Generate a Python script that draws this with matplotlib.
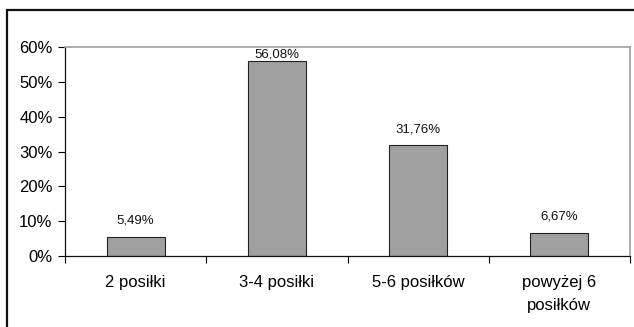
import numpy as np
import matplotlib
matplotlib.use("Agg")
from matplotlib import pyplot as plt
from matplotlib.patches import Rectangle

categories = ["2 posiłki", "3-4 posiłki", "5-6 posiłków", "powyżej 6\nposiłków"]
values = [5.49, 56.08, 31.76, 6.67]
y_ticks = [0, 10, 20, 30, 40, 50, 60]

plt.rcParams['font.family'] = ['Liberation Sans', 'DejaVu Sans']

fig = plt.figure(figsize=(6.34, 3.27), dpi=100)
ax = fig.add_axes([65 / 634, 1 - 256 / 327, 565 / 634, 209 / 327])

x = np.arange(len(categories))
ax.bar(x, values, width=0.41, color='#a0a0a0', edgecolor='#222222', linewidth=0.8, zorder=2)

ax.set_xlim(-0.5, len(categories) - 0.5)
ax.set_ylim(0, 60)

# labels sit above the bars, pushed down if they would leave the plot
for xi, v in zip(x, values):
    y = min(v + 3.7, 57.1)
    ax.text(xi, y, f"{v:.2f}%".replace('.', ','), ha='center', va='baseline',
            fontsize=9.5, color='#111111')

ax.set_yticks(y_ticks)
ax.set_yticklabels([f"{t}%" for t in y_ticks])
ax.tick_params(axis='y', direction='out', length=5, width=0.8, pad=4, labelsize=12)

# category boundaries get ticks, names go in between
ax.set_xticks(np.arange(-0.5, len(categories)))
ax.set_xticklabels([])
ax.set_xticks(x, minor=True)
ax.set_xticklabels(categories, minor=True, fontsize=12, linespacing=1.6)
ax.tick_params(axis='x', which='major', direction='out', length=5, width=0.8)
ax.tick_params(axis='x', which='minor', length=0, pad=14)

for side in ['left', 'bottom']:
    ax.spines[side].set_color('#111111')
    ax.spines[side].set_linewidth(0.9)
for side in ['top', 'right']:
    ax.spines[side].set_color('#a0a0a0')
    ax.spines[side].set_linewidth(1.2)

fig.patches.append(Rectangle((7 / 634, -0.1), 1.2, 1.1 - 10 / 327,
                             transform=fig.transFigure, fill=False,
                             edgecolor='#111111', linewidth=1.6))

fig.savefig('out.png', dpi=100)
